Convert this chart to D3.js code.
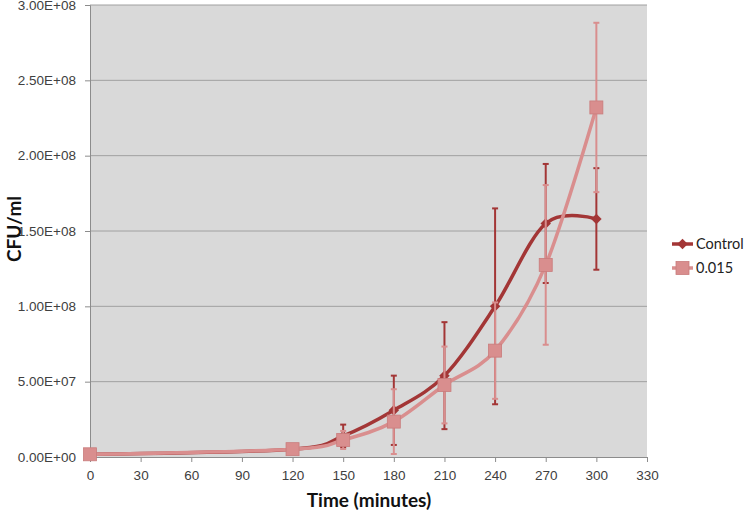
<!DOCTYPE html>
<html>
<head>
<meta charset="utf-8">
<script src="https://cdn.jsdelivr.net/npm/d3@7"></script>
<style>
  body { margin: 0; background: #fff; }
  svg { font-family: Lato, "Open Sans", sans-serif; }
</style>
</head>
<body>
<div class="chart"></div>
<script>
// Access Data
const times = [0, 120, 150, 180, 210, 240, 270, 300]
const controlValues = [1.8e6, 5.2e6, 1.4e7, 3.1e7, 5.4e7, 1.0e8, 1.55e8, 1.58e8]
const controlErrors = [4e5, 8e5, 7.5e6, 2.3e7, 3.55e7, 6.5e7, 3.95e7, 3.37e7]
const treatedValues = [1.8e6, 5.2e6, 1.13e7, 2.35e7, 4.78e7, 7.06e7, 1.275e8, 2.32e8]
const treatedErrors = [4e5, 8e5, 6e6, 2.15e7, 2.55e7, 3.2e7, 5.3e7, 5.62e7]
const xTicks = [0, 30, 60, 90, 120, 150, 180, 210, 240, 270, 300, 330]
const yTicks = [0, 5e7, 1e8, 1.5e8, 2e8, 2.5e8, 3e8]
const seriesNames = ["Control", "0.015"]

const series = [
    { name: seriesNames[0], values: controlValues, errors: controlErrors, color: "#a33636", marker: "diamond", width: 3.5 },
    { name: seriesNames[1], values: treatedValues, errors: treatedErrors, color: "#d98e8e", marker: "square", width: 3.5 },
]

// Chart dimensions
let dimensions = {
    width: 745,
    height: 511,
    margin: { top: 5, right: 98, bottom: 54, left: 90 },
}
dimensions.boundedWidth = dimensions.width - dimensions.margin.left - dimensions.margin.right
dimensions.boundedHeight = dimensions.height - dimensions.margin.top - dimensions.margin.bottom

// Draw canvas
const wrapper = d3.select(".chart")
    .append("svg")
    .attr("width", dimensions.width)
    .attr("height", dimensions.height)

const bounds = wrapper.append("g")
    .attr("transform", `translate(${dimensions.margin.left},${dimensions.margin.top})`)

// Scales
const xScale = d3.scaleLinear()
    .domain([0, 330])
    .range([0, dimensions.boundedWidth])

const yScale = d3.scaleLinear()
    .domain([0, 3e8])
    .range([dimensions.boundedHeight, 0])

// Background + gridlines
bounds.append("rect")
    .attr("width", dimensions.boundedWidth)
    .attr("height", dimensions.boundedHeight)
    .attr("fill", "#d9d9d9")

bounds.append("g")
    .selectAll("line")
    .data(yTicks.slice(1))
    .join("line")
    .attr("x1", 0)
    .attr("x2", dimensions.boundedWidth)
    .attr("y1", d => yScale(d))
    .attr("y2", d => yScale(d))
    .attr("stroke", "#a0a0a0")
    .attr("stroke-width", 1)

// Axes
const yAxisGenerator = d3.axisLeft(yScale)
    .tickValues(yTicks)
    .tickSize(5)
    .tickPadding(9)
    .tickFormat(d => {
        if (d === 0) return "0.00E+00"
        const e = Math.floor(Math.log10(d))
        return (d / Math.pow(10, e)).toFixed(2) + "E+" + String(e).padStart(2, "0")
    })

const yAxis = bounds.append("g").call(yAxisGenerator)

const xAxisGenerator = d3.axisBottom(xScale)
    .tickValues(xTicks)
    .tickSize(5)
    .tickPadding(8)

const xAxis = bounds.append("g")
    .attr("transform", `translate(0,${dimensions.boundedHeight})`)
    .call(xAxisGenerator)

for (const axis of [xAxis, yAxis]) {
    axis.select(".domain").attr("stroke", "#8c8c8c")
    axis.selectAll(".tick line").attr("stroke", "#8c8c8c")
    axis.selectAll(".tick text")
        .attr("fill", "#404040")
        .style("font-size", "13.5px")
}

// Axis titles
wrapper.append("text")
    .attr("x", 369)
    .attr("y", 507)
    .attr("text-anchor", "middle")
    .style("font-size", "19px")
    .style("font-weight", "bold")
    .attr("fill", "#111")
    .text("Time (minutes)")

wrapper.append("text")
    .attr("transform", "translate(21,229) rotate(-90)")
    .attr("text-anchor", "middle")
    .style("font-size", "19px")
    .style("font-weight", "bold")
    .attr("fill", "#111")
    .text("CFU/ml")

// Draw data
const lineGenerator = d3.line()
    .x((d, i) => xScale(times[i]))
    .y(d => yScale(d))
    .curve(d3.curveCardinal.tension(0))

const drawMarker = (g, s, x, y) => {
    if (s.marker === "diamond") {
        g.append("path")
            .attr("d", d3.symbol(d3.symbolDiamond2, 70)())
            .attr("transform", `translate(${x},${y})`)
            .attr("fill", s.color)
    } else {
        g.append("rect")
            .attr("x", x - 6.5)
            .attr("y", y - 6.5)
            .attr("width", 13)
            .attr("height", 13)
            .attr("fill", s.color)
            .attr("stroke", "#c97c7c")
            .attr("stroke-width", 0.8)
    }
}

series.forEach(s => {
    const g = bounds.append("g")

    // error bars
    s.values.forEach((v, i) => {
        const x = xScale(times[i])
        const lo = yScale(v - s.errors[i])
        const hi = yScale(v + s.errors[i])
        g.append("line")
            .attr("x1", x).attr("x2", x)
            .attr("y1", lo).attr("y2", hi)
            .attr("stroke", s.color)
            .attr("stroke-width", 2)
        ;[lo, hi].forEach(yy => {
            g.append("line")
                .attr("x1", x - 3).attr("x2", x + 3)
                .attr("y1", yy).attr("y2", yy)
                .attr("stroke", s.color)
                .attr("stroke-width", 2)
        })
    })

    g.append("path")
        .attr("d", lineGenerator(s.values))
        .attr("fill", "none")
        .attr("stroke", s.color)
        .attr("stroke-width", s.width)

    s.values.forEach((v, i) => drawMarker(g, s, xScale(times[i]), yScale(v)))
})

// Legend
const legend = wrapper.append("g")
series.forEach((s, i) => {
    const y = 244 + i * 24
    legend.append("line")
        .attr("x1", 672).attr("x2", 693)
        .attr("y1", y).attr("y2", y)
        .attr("stroke", s.color)
        .attr("stroke-width", s.width)
    drawMarker(legend, s, 682.5, y)
    legend.append("text")
        .attr("x", 696)
        .attr("y", y)
        .attr("dy", "0.35em")
        .style("font-size", "14.5px")
        .attr("fill", "#222")
        .text(s.name)
})
</script>
</body>
</html>
